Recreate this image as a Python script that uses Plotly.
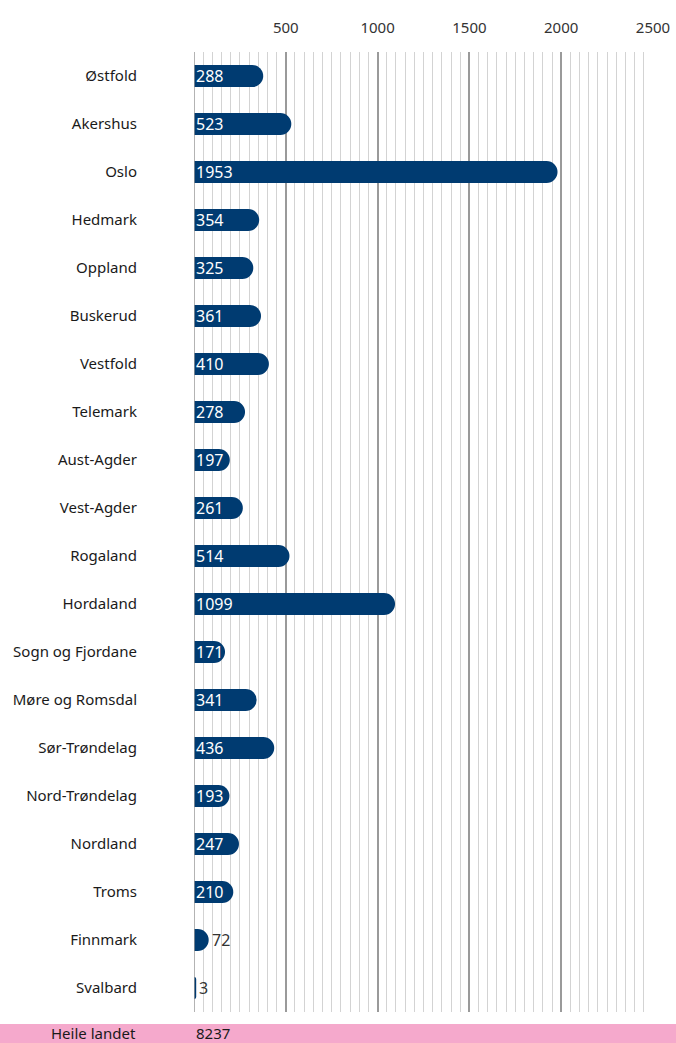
import plotly.graph_objects as go

regions = ["Østfold", "Akershus", "Oslo", "Hedmark", "Oppland", "Buskerud", "Vestfold",
           "Telemark", "Aust-Agder", "Vest-Agder", "Rogaland", "Hordaland",
           "Sogn og Fjordane", "Møre og Romsdal", "Sør-Trøndelag", "Nord-Trøndelag",
           "Nordland", "Troms", "Finnmark", "Svalbard"]
# printed value labels
values = [288, 523, 1953, 354, 325, 361, 410, 278, 197, 261, 514, 1099,
          171, 341, 436, 193, 247, 210, 72, 3]
bar_lengths = [377, 530, 1980, 355, 323, 365, 408, 278, 195, 266, 520, 1095,
               169, 341, 437, 193, 245, 214, 80, 12]
total_label = "Heile landet"
total_value = 8237
tick_vals = [0, 500, 1000, 1500, 2000, 2500]
tick_text = ["", "500", "1000", "1500", "2000", "2500"]

BLUE = "#003b71"
FONT = "Noto Sans"

fig = go.Figure()
fig.add_trace(go.Bar(
    y=regions, x=bar_lengths, orientation="h",
    marker=dict(color=BLUE, cornerradius="50%", line=dict(width=0)),
    cliponaxis=False,
    hoverinfo="skip",
))

# value labels
for r, v, b in zip(regions, values, bar_lengths):
    inside = v > 120
    fig.add_annotation(
        x=b if not inside else 0, y=r, xref="x", yref="y",
        text=str(v), showarrow=False, xanchor="left", yanchor="middle",
        xshift=1 if not inside else 0,
        font=dict(size=16, color="white" if inside else "#333333", family=FONT),
    )

W, H = 676, 1043
ml, mr, mt, mb = 194, 23, 52, 31
pw = W - ml - mr
ph = H - mt - mb

band_top_px = 1024
yb0 = -(H - (H - mb)) / ph
yb1 = -(band_top_px - (H - mb)) / ph

fig.update_layout(
    width=W, height=H,
    margin=dict(l=ml, r=mr, t=mt, b=mb, autoexpand=False),
    paper_bgcolor="white", plot_bgcolor="white",
    bargap=0.54,
    showlegend=False,
    font=dict(family=FONT, color="#222222"),
    xaxis=dict(
        side="top", range=[0, 2500], automargin=False,
        tickvals=tick_vals, ticktext=tick_text,
        showgrid=True, gridcolor="#9a9a9a", gridwidth=1.5,
        zeroline=False, showline=False, ticks="",
        tickfont=dict(size=15, color="#333333", family=FONT),
        ticklabelstandoff=15,
        minor=dict(dtick=50, showgrid=True, gridcolor="#d3d3d3", gridwidth=1),
        fixedrange=True,
    ),
    yaxis=dict(
        autorange="reversed", showgrid=False, zeroline=False, showline=False,
        automargin=False,
        ticks="", tickfont=dict(size=15, color="#1a1a1a", family=FONT),
        ticklabelstandoff=56,
        fixedrange=True,
    ),
)

# baseline at zero drawn over bars
fig.add_shape(type="line", xref="x", yref="paper", x0=0, x1=0, y0=0, y1=1,
              line=dict(color="#9a9a9a", width=1.5), layer="above")

fig.add_shape(type="rect", xref="paper", yref="paper",
              x0=-ml / pw, x1=(W - ml) / pw, y0=yb0, y1=yb1,
              fillcolor="#f5a9cc", line=dict(width=0), layer="below")
fig.add_annotation(x=0, xref="paper", y=yb0, yref="paper", text=total_label,
                   showarrow=False, xanchor="right", yanchor="bottom",
                   xshift=-56, yshift=-2,
                   font=dict(size=15, color="#1a1a1a", family=FONT))
fig.add_annotation(x=0, xref="x", y=yb0, yref="paper", text=str(total_value),
                   showarrow=False, xanchor="left", yanchor="bottom",
                   xshift=0, yshift=-2,
                   font=dict(size=15, color="#1a1a1a", family=FONT))

fig.write_html("out.html", config={"displayModeBar": False},
               post_script="document.body.style.margin='0px';")
